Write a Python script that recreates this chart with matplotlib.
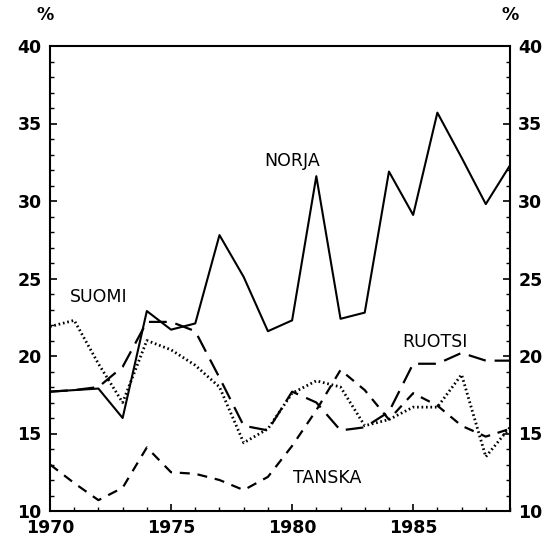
import matplotlib
matplotlib.use("Agg")
import matplotlib.pyplot as plt
from matplotlib.ticker import MultipleLocator

years = list(range(1970, 1990))
norja = [17.7, 17.8, 17.9, 16.0, 22.9, 21.7, 22.1, 27.8, 25.1, 21.6, 22.3, 31.6,
         22.4, 22.8, 31.9, 29.1, 35.7, 32.8, 29.8, 32.3]
suomi = [21.9, 22.3, 19.5, 17.0, 21.0, 20.4, 19.4, 18.0, 14.4, 15.3, 17.6, 18.4,
         18.0, 15.5, 15.9, 16.7, 16.7, 18.8, 13.5, 15.4]
ruotsi = [17.7, 17.8, 18.0, 19.3, 22.2, 22.2, 21.6, 18.6, 15.5, 15.2, 17.7, 17.0,
          15.2, 15.4, 16.4, 19.5, 19.5, 20.2, 19.7, 19.7]
tanska = [13.0, 11.8, 10.7, 11.5, 14.1, 12.5, 12.4, 12.0, 11.35, 12.2, 14.2, 16.5,
          19.1, 17.8, 15.9, 17.6, 16.8, 15.5, 14.8, 15.3]

labels = {"NORJA": (1980.0, 32.6), "SUOMI": (1972.0, 23.8),
          "RUOTSI": (1985.9, 20.9), "TANSKA": (1981.45, 12.1)}

fig = plt.figure(figsize=(5.51, 5.42), dpi=100)
ax = fig.add_axes([50/551, 1-511/542, 460/551, 465/542])

ax.plot(years, norja, color="black", lw=1.5, linestyle="-")
ax.plot(years, suomi, color="black", lw=2.0, linestyle=(0, (0.6, 1.0)))
ax.plot(years, ruotsi, color="black", lw=1.6, linestyle=(0, (8, 4)))
ax.plot(years, tanska, color="black", lw=1.6, linestyle=(0, (4.5, 3.5)))

font = dict(family="DejaVu Sans", fontsize=12.5)
for t, (x, y) in labels.items():
    ax.text(x, y, t, ha="center", va="center", **font)

ax.set_xlim(1970, 1989)
ax.set_ylim(10, 40)
ax.xaxis.set_major_locator(MultipleLocator(5))
ax.xaxis.set_minor_locator(MultipleLocator(1))
ax.yaxis.set_major_locator(MultipleLocator(5))
ax.yaxis.set_minor_locator(MultipleLocator(1))
ax.tick_params(which="both", direction="in", left=True, right=True,
               labelleft=True, labelright=True, top=False, bottom=True)
ax.tick_params(which="major", length=5, width=1.2, labelsize=12.5, pad=6)
ax.tick_params(which="minor", length=3, width=1)
for lab in ax.get_xticklabels() + ax.get_yticklabels():
    lab.set_fontweight("bold")
for s in ax.spines.values():
    s.set_linewidth(1.5)

fig.text(45/551, 1-15/542, "%", ha="center", va="center", fontweight="bold", **font)
fig.text(510/551, 1-15/542, "%", ha="center", va="center", fontweight="bold", **font)

fig.savefig("out.png", dpi=100)
